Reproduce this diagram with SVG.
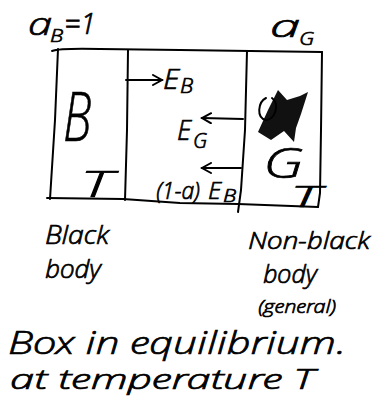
<svg xmlns="http://www.w3.org/2000/svg" width="374" height="397" viewBox="0 0 374 397">
<defs>
<style>
.ln{fill:none;stroke:#000;stroke-width:2;stroke-linecap:round;stroke-linejoin:round}
.t{font-family:"DejaVu Sans ExtraLight","Open Sans Light","DejaVu Sans",sans-serif;font-weight:300;font-style:oblique;fill:#000;stroke:#000;stroke-width:0.7}
</style>
<marker id="ah" markerWidth="12" markerHeight="12" refX="10" refY="6" orient="auto" markerUnits="userSpaceOnUse">
<path d="M1,1 L10,6 L1,11" fill="none" stroke="#000" stroke-width="2" stroke-linecap="round"/>
</marker>
</defs>
<rect width="374" height="397" fill="#fff"/>

<g id="box">
<path class="ln" d="M52,51 Q60,48 100,49 L180,50 L250,51 L322,52"/>
<path class="ln" d="M58,49 L55,120 L50,199"/>
<path class="ln" d="M322,52 L321,130 L320,193 L318,207"/>
<path class="ln" d="M47,198 L123,199 L180,203 L238,204 L318,207"/>
</g>

<g id="black-body">
<path class="ln" d="M128,50 L127,130 L125,200"/>
<text class="t" x="63" y="141" font-size="68" textLength="28" lengthAdjust="spacingAndGlyphs">B</text>
<text class="t" x="80" y="197" font-size="36" textLength="32" lengthAdjust="spacingAndGlyphs">T</text>
<text class="t" x="28" y="35" font-size="32" textLength="24" lengthAdjust="spacingAndGlyphs">a</text>
<text class="t" x="50" y="42" font-size="19" textLength="13" lengthAdjust="spacingAndGlyphs">B</text>
<text class="t" x="64" y="34" font-size="29" textLength="32" lengthAdjust="spacingAndGlyphs">=1</text>
<text class="t" x="45" y="244" font-size="25" textLength="64" lengthAdjust="spacingAndGlyphs">Black</text>
<text class="t" x="45" y="278" font-size="25" textLength="56" lengthAdjust="spacingAndGlyphs">body</text>
</g>

<g id="general-body">
<path class="ln" d="M247,51 L245,130 L241,190 L238,212"/>
<path d="M258,132 L268,110 L278,90 L287,100 L300,96 L308,92 L301,114 L296,128 L294,142 L284,131 L271,140 Z" fill="#111"/>
<path class="ln" d="M266,98 C258,102 256,118 266,120 C275,120 280,104 272,98" stroke-width="1.5"/>
<text class="t" x="263" y="178" font-size="42" textLength="40" lengthAdjust="spacingAndGlyphs">G</text>
<text class="t" x="290" y="207" font-size="30" textLength="30" lengthAdjust="spacingAndGlyphs">T</text>
<text class="t" x="270" y="37" font-size="32" textLength="30" lengthAdjust="spacingAndGlyphs">a</text>
<text class="t" x="299" y="45" font-size="19" textLength="15" lengthAdjust="spacingAndGlyphs">G</text>
<text class="t" x="248" y="249" font-size="23" textLength="122" lengthAdjust="spacingAndGlyphs">Non-black</text>
<text class="t" x="263" y="283" font-size="25" textLength="54" lengthAdjust="spacingAndGlyphs">body</text>
<text class="t" x="258" y="313" font-size="19" textLength="78" lengthAdjust="spacingAndGlyphs">(general)</text>
</g>

<g id="connectors">
<path class="ln" d="M126,80 L162,80" marker-end="url(#ah)"/>
<path class="ln" d="M243,119 L202,118" marker-end="url(#ah)"/>
<path class="ln" d="M241,168 L202,168" marker-end="url(#ah)"/>
</g>

<g id="labels">
<text class="t" x="163" y="89" font-size="28" textLength="16" lengthAdjust="spacingAndGlyphs">E</text>
<text class="t" x="180" y="93" font-size="20" textLength="13" lengthAdjust="spacingAndGlyphs">B</text>
<text class="t" x="177" y="140" font-size="28" textLength="14" lengthAdjust="spacingAndGlyphs">E</text>
<text class="t" x="193" y="148" font-size="20" textLength="14" lengthAdjust="spacingAndGlyphs">G</text>
<text class="t" x="156" y="199" font-size="24" textLength="44" lengthAdjust="spacingAndGlyphs">(1-a)</text>
<text class="t" x="208" y="199" font-size="24" textLength="13" lengthAdjust="spacingAndGlyphs">E</text>
<text class="t" x="223" y="202" font-size="18" textLength="13" lengthAdjust="spacingAndGlyphs">B</text>
<text class="t" x="8" y="354" font-size="31" textLength="338" lengthAdjust="spacingAndGlyphs">Box in equilibrium.</text>
<text class="t" x="10" y="389" font-size="27" textLength="304" lengthAdjust="spacingAndGlyphs">at temperature T</text>
</g>
</svg>
